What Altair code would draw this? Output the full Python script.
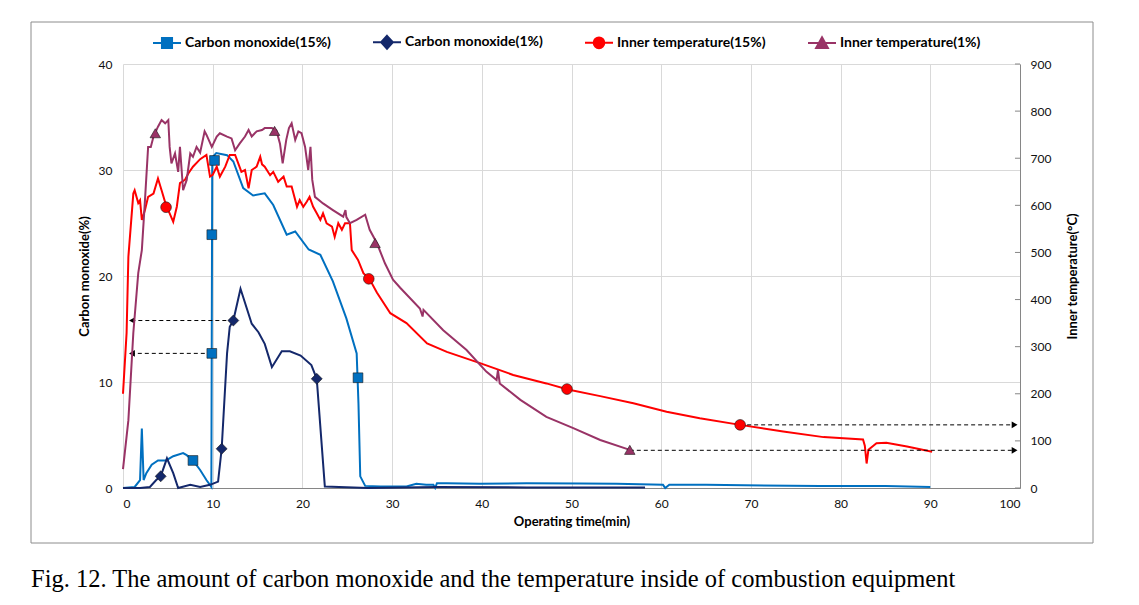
import altair as alt
import pandas as pd

# ---------------- data ----------------
SERIES = ["Carbon monoxide(15%)", "Carbon monoxide(1%)",
          "Inner temperature(15%)", "Inner temperature(1%)"]
COLORS = ["#0070C0", "#14286B", "#FF0000", "#993366"]
SHAPES = ["square", "diamond", "circle", "triangle-up"]

X_TICKS = list(range(0, 101, 10))
CO_TICKS = [0, 10, 20, 30, 40]
TEMP_TICKS = list(range(0, 901, 100))

co15_time = [0, 1.3, 1.9, 2.1, 2.3, 2.6, 3.2, 3.9, 4.8, 5.6, 6.7, 7.1, 7.8, 8.6, 9.3, 9.85, 9.95,
             10.4, 11.6, 12.3, 13.4, 14.5, 15.8, 16.75, 18.25, 19.2, 20.7, 22.0, 23.4, 24.9, 26.05,
             26.25, 26.45, 27.0, 28.7, 31.6, 32.7, 33.8, 34.6, 34.8, 35.0, 36.1, 39.8, 45.0, 51.0,
             55.0, 60.2, 60.45, 60.9, 65.0, 69.3, 77.7, 85.0, 90.0]
co15_value = [0, 0.1, 0.75, 5.6, 0.75, 1.4, 2.2, 2.6, 2.6, 3.0, 3.3, 3.1, 2.6, 1.7, 0.75, 0.1, 31.2,
              31.6, 31.4, 30.8, 28.3, 27.6, 27.8, 26.7, 23.9, 24.2, 22.5, 22.0, 19.5, 16.0, 12.7,
              8.0, 1.1, 0.2, 0.15, 0.15, 0.4, 0.3, 0.3, 0.0, 0.45, 0.45, 0.4, 0.45, 0.42,
              0.4, 0.3, 0.0, 0.3, 0.3, 0.25, 0.2, 0.2, 0.1]

co1_time = [0, 1.9, 3.0, 3.7, 4.2, 4.9, 5.6, 6.15, 7.5, 8.6, 9.7, 10.6, 11.0, 11.6, 11.9, 12.3,
            13.1, 14.35, 15.1, 15.8, 16.6, 17.7, 18.6, 19.8, 21.0, 21.6, 22.5, 27.3, 35.0, 45.0, 58.2]
co1_value = [0, 0, 0.1, 0.75, 1.1, 2.8, 1.4, 0, 0.3, 0.1, 0.3, 0.6, 3.7, 12.7, 15.2, 15.8,
             18.8, 15.5, 14.7, 13.6, 11.4, 12.9, 12.9, 12.5, 11.6, 10.3, 0.15, 0.0, 0.1, 0.05, 0.05]

temp15_time = [0, 0.4, 0.6, 1.15, 1.3, 1.7, 1.9, 2.1, 2.45, 2.8,
               3.4, 3.9, 4.3, 4.8, 5.2, 5.6, 6.0, 6.35, 6.9, 7.3,
               7.8, 8.6, 9.3, 9.7, 10.0, 10.45, 10.8, 11.4, 11.9, 12.5,
               12.85, 13.2, 13.6, 14.0, 14.35, 14.9, 15.3, 15.5, 15.8, 16.4,
               16.75, 17.3, 17.9, 18.25, 18.8, 19.4, 19.7, 20.1, 20.5, 20.8,
               21.2, 21.6, 22.0, 22.3, 22.7, 23.3, 23.6, 24.0, 24.4, 24.75,
               25.3, 25.5, 26.2, 26.8, 27.5, 28.3, 29.8, 31.6, 33.9, 36.1,
               39.8, 43.5, 47.2, 49.6, 53.2, 56.9, 60.6, 64.3, 68.8, 73.6,
               78.1, 82.5, 82.7, 82.9, 83.1, 84.0, 85.1, 87.4, 90.2]
temp15_value = [200, 329, 491, 625, 632, 605, 611, 569, 590, 618,
                625, 657, 632, 600, 583, 565, 597, 647, 654, 668,
                682, 698, 707, 661, 665, 682, 661, 682, 707, 707,
                689, 671, 675, 636, 675, 682, 703, 687, 682, 664,
                671, 650, 661, 640, 640, 597, 611, 597, 608, 618,
                597, 583, 569, 583, 562, 555, 533, 562, 548, 562,
                562, 505, 484, 456, 443, 415, 371, 350, 307, 289,
                265, 240, 222, 209, 195, 180, 162, 148, 134, 120,
                108, 103, 90, 52, 81, 95, 96, 88, 77]

temp1_time = [0, 0.6, 1.15, 1.7, 2.1, 2.45, 2.8, 3.1, 3.4, 3.9,
              4.3, 4.7, 5.05, 5.2, 5.4, 5.8, 6.15, 6.35, 6.7, 7.1,
              7.5, 7.8, 8.2, 8.6, 9.1, 9.3, 9.9, 10.45, 10.8, 11.6,
              12.1, 12.5, 13.0, 13.6, 14.0, 14.35, 14.9, 15.5, 15.8, 16.6,
              17.1, 17.5, 17.8, 18.2, 18.5, 18.8, 19.2, 19.55, 19.9, 20.3,
              20.65, 20.9, 21.1, 21.4, 22.3, 23.4, 24.55, 24.8, 24.9, 25.3,
              26.05, 27.0, 27.5, 28.3, 29.2, 30.1, 30.9, 33.1, 33.4, 33.5,
              35.7, 38.3, 40.5, 41.65, 41.8, 42.0, 44.3, 47.2, 50.2, 53.2,
              56.5]
temp1_value = [40, 144, 329, 456, 505, 611, 724, 724, 746, 767,
               781, 774, 781, 724, 689, 710, 671, 724, 632, 654,
               710, 703, 724, 712, 757, 750, 724, 746, 753, 746,
               742, 717, 731, 746, 760, 746, 757, 760, 764, 764,
               759, 731, 689, 739, 764, 774, 739, 757, 753, 724,
               675, 724, 654, 618, 604, 590, 576, 590, 575, 562,
               569, 580, 548, 520, 477, 442, 425, 381, 364, 378,
               335, 293, 247, 229, 250, 222, 187, 151, 127, 102,
               81]

co15_marker_time = [7.8, 9.9, 9.9, 10.2, 26.2]
co15_marker_value = [2.6, 12.7, 23.9, 30.9, 10.4]
co1_marker_time = [4.2, 11.0, 12.3, 21.6]
co1_marker_value = [1.1, 3.7, 15.8, 10.3]
temp15_marker_time = [4.8, 27.4, 49.5, 68.8]
temp15_marker_value = [596, 444, 210, 134]
temp1_marker_time = [3.6, 16.9, 28.1, 56.5]
temp1_marker_value = [753, 758, 520, 81]

co_arrow_value = [12.7, 15.8]
co_arrow_from = [9.9, 12.3]
co_arrow_to = [1.0, 1.0]
temp_arrow_value = [134, 80]
temp_arrow_from = [68.8, 56.5]
temp_arrow_to = [99.4, 99.4]

CAPTION = "Fig. 12. The amount of carbon monoxide and the temperature inside of combustion equipment"

# ---------------- tables ----------------
def series_df(times, values, name):
    return pd.DataFrame({"t": times, "v": values, "series": name, "i": range(len(times))})

line_tables = [series_df(co15_time, co15_value, SERIES[0]),
               series_df(co1_time, co1_value, SERIES[1]),
               series_df(temp15_time, temp15_value, SERIES[2]),
               series_df(temp1_time, temp1_value, SERIES[3])]
marker_tables = [series_df(co15_marker_time, co15_marker_value, SERIES[0]),
                 series_df(co1_marker_time, co1_marker_value, SERIES[1]),
                 series_df(temp15_marker_time, temp15_marker_value, SERIES[2]),
                 series_df(temp1_marker_time, temp1_marker_value, SERIES[3])]
co_arrows = pd.DataFrame({"v": co_arrow_value, "t": co_arrow_from, "t2": co_arrow_to})
temp_arrows = pd.DataFrame({"v": temp_arrow_value, "t": temp_arrow_from, "t2": temp_arrow_to})
temp_ticks = pd.DataFrame({"v": TEMP_TICKS})
# legend-only rows, placed outside the x domain and clipped away
legend_rows = pd.DataFrame({"t": [-50] * 4, "v": [-50] * 4, "series": SERIES})

# ---------------- encodings ----------------
FONT = "Lato"
GRID = "#d9d9d9"
AXISLINE = "#868686"

def X(field="t"):
    return alt.X(f"{field}:Q",
                 scale=alt.Scale(domain=[0, 100], nice=False, zero=False),
                 axis=alt.Axis(values=X_TICKS, title="Operating time(min)", grid=True,
                               gridColor=GRID, domainColor=AXISLINE, ticks=False, tickSize=0,
                               labelPadding=10, titlePadding=6, format="d"))

def Yco():
    return alt.Y("v:Q", scale=alt.Scale(domain=[0, 40], nice=False),
                 axis=alt.Axis(values=CO_TICKS, title="Carbon monoxide(%)", grid=True,
                               gridColor=GRID, domain=False, ticks=False, tickSize=0,
                               labelPadding=11, titlePadding=7, format="d"))

def Ytemp():
    return alt.Y("v:Q", scale=alt.Scale(domain=[0, 900], nice=False),
                 axis=alt.Axis(orient="right", values=TEMP_TICKS, title="Inner temperature(°C)",
                               grid=False, domainColor=AXISLINE, ticks=False, tickSize=0,
                               labelPadding=10, titlePadding=29, titleAngle=270, format="d"))

legend_paths = [
    "M-1,0H1M-0.36,-0.36H0.36V0.36H-0.36Z",
    "M-1,0H1M0,-0.46L0.42,0L0,0.46L-0.42,0Z",
    "M-1,0H1M-0.38,0A0.38,0.38,0,1,0,0.38,0A0.38,0.38,0,1,0,-0.38,0Z",
    "M-1,0H1M0,-0.42L0.42,0.34L-0.42,0.34Z",
]

LEGEND = alt.Legend(
    title=None, orient="none", legendX=29, legendY=-37, direction="horizontal", columns=4,
    columnPadding=38, labelFont=FONT, labelFontSize=14, labelFontWeight="bold",
    labelColor="black", labelOffset=3, symbolSize=784, symbolStrokeWidth=2, padding=0,
    symbolOpacity=1,
)


def line_layer(k, yenc):
    return alt.Chart(line_tables[k]).mark_line(strokeWidth=2, color=COLORS[k]).encode(
        x=X(), y=yenc, order="i:Q")


def marker_layer(k, yenc, size):
    return alt.Chart(marker_tables[k]).mark_point(
        shape=SHAPES[k], filled=True, fill=COLORS[k], size=size, opacity=1,
        stroke="#1a1a1a", strokeWidth=0.6).encode(x=X(), y=yenc)


# ---------------- CO group (left axis) ----------------
co_arrow_layer = alt.Chart(co_arrows).mark_rule(color="black", strokeWidth=1, strokeDash=[4, 3]).encode(
    x=X(), x2="t2:Q", y=Yco())
co_head_layer = alt.Chart(co_arrows).mark_point(shape="triangle-left", filled=True, color="black",
                                                size=45, opacity=1).encode(x=X("t2"), y=Yco())

legend_layer = alt.Chart(legend_rows).mark_point(filled=True, opacity=1, clip=True, strokeWidth=2).encode(
    x=X(), y=Yco(),
    color=alt.Color("series:N", scale=alt.Scale(domain=SERIES, range=COLORS), legend=LEGEND),
    stroke=alt.Stroke("series:N", scale=alt.Scale(domain=SERIES, range=COLORS), legend=LEGEND),
    shape=alt.Shape("series:N", scale=alt.Scale(domain=SERIES, range=legend_paths), legend=LEGEND))

frame_layer = alt.Chart(pd.DataFrame({"k": [1]})).mark_rect(
    filled=False, stroke="#8c8c8c", strokeWidth=1).encode(
    x=alt.value(-92), x2=alt.value(970), y=alt.value(-42), y2=alt.value(479))
caption_layer = alt.Chart(pd.DataFrame({"k": [1]})).mark_text(
    align="left", baseline="alphabetic", font="Liberation Serif", fontSize=24.5, color="black").encode(
    x=alt.value(-92), y=alt.value(523), text=alt.value(CAPTION))

co_group = alt.layer(frame_layer, line_layer(0, Yco()), line_layer(1, Yco()),
                     co_arrow_layer, co_head_layer,
                     marker_layer(0, Yco(), 95), marker_layer(1, Yco(), 120),
                     legend_layer, caption_layer)

# ---------------- temperature group (right axis) ----------------
temp_tick_layer = alt.Chart(temp_ticks).mark_rule(color=AXISLINE, strokeWidth=1).encode(
    x=alt.datum(99.44, type="quantitative", scale=alt.Scale(domain=[0, 100], nice=False, zero=False)),
    x2=alt.datum(100), y=Ytemp())
temp_arrow_layer = alt.Chart(temp_arrows).mark_rule(color="black", strokeWidth=1, strokeDash=[4, 3]).encode(
    x=X(), x2="t2:Q", y=Ytemp())
temp_head_layer = alt.Chart(temp_arrows).mark_point(shape="triangle-right", filled=True, color="black",
                                                    size=45, opacity=1).encode(x=X("t2"), y=Ytemp())

temp_group = alt.layer(temp_tick_layer, line_layer(2, Ytemp()), line_layer(3, Ytemp()),
                       temp_arrow_layer, temp_head_layer,
                       marker_layer(2, Ytemp(), 115), marker_layer(3, Ytemp(), 110))

chart = alt.layer(co_group, temp_group).resolve_scale(y="independent").properties(
    width=897, height=424,
    autosize=alt.AutoSizeParams(type="none"),
    padding={"left": 115, "top": 56, "right": 111, "bottom": 109},
).configure_view(stroke="transparent").configure_axis(
    labelFont=FONT, labelFontSize=12, labelColor="#111111",
    titleFont=FONT, titleFontSize=13, titleFontWeight="bold", titleColor="black",
)

chart.save("out.html", embed_options={"renderer": "svg", "actions": False})
